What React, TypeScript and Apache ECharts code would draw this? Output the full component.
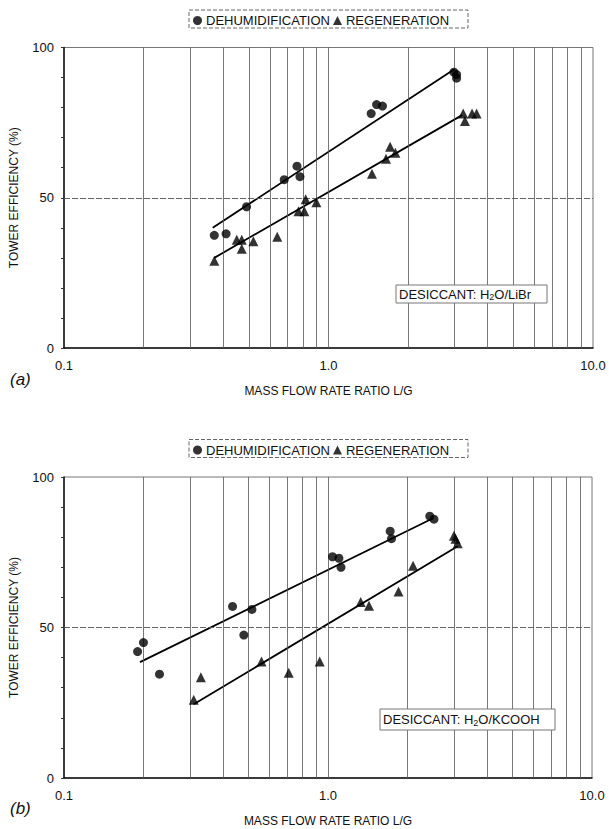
import React, { useEffect, useRef } from "react";
import * as echarts from "echarts";

// ---- data ----
const aDehumX = [0.37, 0.41, 0.49, 0.68, 0.76, 0.78, 1.45, 1.52, 1.6, 2.98, 3.05, 3.05];
const aDehumY = [37.5, 38, 47, 56, 60.5, 57, 78, 81, 80.5, 91.8, 91, 89.8];
const aRegenX = [0.37, 0.45, 0.47, 0.47, 0.52, 0.64, 0.77, 0.81, 0.82, 0.9, 1.46, 1.65, 1.71, 1.79, 3.23, 3.28, 3.49, 3.63];
const aRegenY = [29, 36, 36, 33, 35.5, 37, 45.5, 45.5, 49.5, 48.5, 58, 63, 67, 65, 78, 75.5, 78, 78];
const aDehumFitX = [0.365, 2.98];
const aDehumFitY = [40, 92.7];
const aRegenFitX = [0.37, 3.2];
const aRegenFitY = [30, 77.5];

const bDehumX = [0.19, 0.2, 0.23, 0.435, 0.48, 0.515, 1.04, 1.1, 1.12, 1.72, 1.74, 2.43, 2.52];
const bDehumY = [42, 45, 34.5, 57, 47.5, 56, 73.5, 73, 70, 82, 79.5, 87, 86];
const bRegenX = [0.31, 0.33, 0.56, 0.71, 0.93, 1.33, 1.43, 1.85, 2.1, 3.0, 3.04, 3.1];
const bRegenY = [26, 33.5, 38.7, 35, 38.7, 58.5, 57.2, 62, 70.5, 80.5, 79.5, 78];
const bDehumFitX = [0.194, 2.5];
const bDehumFitY = [38.5, 86.3];
const bRegenFitX = [0.31, 3.1];
const bRegenFitY = [24.5, 77];

const gridXs = [0.2, 0.3, 0.4, 0.5, 0.6, 0.7, 0.8, 0.9, 1, 2, 3, 4, 5, 6, 7, 8, 9];
const xTickLabels: Record<string, string> = { "0.1": "0.1", "1": "1.0", "10": "10.0" };
const yTickLabels = [0, 50, 100];
const seriesNames = ["DEHUMIDIFICATION", "REGENERATION"];
const panelTags = ["(a)", "(b)"];
const desiccants = ["H{sub|2}O/LiBr", "H{sub|2}O/KCOOH"];

const FONT = "'Liberation Sans', Arial, sans-serif";

const zip = (xs: number[], ys: number[]) => xs.map((x, i) => [x, ys[i]]);

export default function App() {
  const ref = useRef<HTMLDivElement>(null);
  useEffect(() => {
    if (!ref.current) return;
    const chart = echarts.init(ref.current, undefined, { renderer: "svg" });

    const grids = [
      { left: 64, top: 47.5, width: 529, height: 300.5 },
      { left: 63, top: 477, width: 529, height: 301 },
    ];
    const panels = [
      { dx: aDehumX, dy: aDehumY, rx: aRegenX, ry: aRegenY, dfx: aDehumFitX, dfy: aDehumFitY, rfx: aRegenFitX, rfy: aRegenFitY },
      { dx: bDehumX, dy: bDehumY, rx: bRegenX, ry: bRegenY, dfx: bDehumFitX, dfy: bDehumFitY, rfx: bRegenFitX, rfy: bRegenFitY },
    ];

    const xAxis = grids.map((_, i) => ({
      type: "log",
      logBase: 10,
      gridIndex: i,
      min: 0.1,
      max: 10,
      name: "MASS FLOW RATE RATIO L/G",
      nameLocation: "middle",
      nameGap: 37,
      nameTextStyle: { fontFamily: FONT, fontSize: 12, color: "#111" },
      axisLine: { show: true, lineStyle: { color: "#111", width: 1.5 } },
      axisTick: { show: false },
      splitLine: { show: false },
      axisLabel: {
        fontFamily: FONT,
        fontSize: 13,
        color: "#111",
        margin: 11,
        formatter: (v: number) => xTickLabels[String(+v.toPrecision(3))] ?? "",
      },
    }));

    const yAxis = grids.map((_, i) => ({
      type: "value",
      gridIndex: i,
      min: 0,
      max: 100,
      interval: 10,
      name: "TOWER EFFICIENCY (%)",
      nameLocation: "middle",
      nameGap: 44,
      nameTextStyle: { fontFamily: FONT, fontSize: 12, color: "#111" },
      axisLine: { show: true, lineStyle: { color: "#111", width: 1.5 } },
      axisTick: { show: true, length: 3, lineStyle: { color: "#333" } },
      splitLine: { show: false },
      axisLabel: {
        fontFamily: FONT,
        fontSize: 13,
        color: "#111",
        margin: 10,
        formatter: (v: number) => (yTickLabels.includes(v) ? String(v) : ""),
      },
    }));

    const series: any[] = [];
    panels.forEach((p, i) => {
      series.push({
        name: seriesNames[0],
        type: "scatter",
        xAxisIndex: i,
        yAxisIndex: i,
        symbol: "circle",
        symbolSize: 9,
        itemStyle: { color: "#000" },
        data: zip(p.dx, p.dy),
        z: 5,
      });
      series.push({
        name: seriesNames[1],
        type: "scatter",
        xAxisIndex: i,
        yAxisIndex: i,
        symbol: "triangle",
        symbolSize: 10,
        itemStyle: { color: "#000" },
        data: zip(p.rx, p.ry),
        z: 5,
      });
      series.push({
        name: "fitD" + i,
        type: "line",
        xAxisIndex: i,
        yAxisIndex: i,
        symbol: "none",
        lineStyle: { color: "#000", width: 1.8 },
        data: zip(p.dfx, p.dfy),
        z: 4,
        markLine: {
          silent: true,
          symbol: "none",
          label: { show: false },
          lineStyle: { color: "#555", width: 0.8, type: "solid" },
          data: [
            ...gridXs.map((v) => ({ xAxis: v })),
            { yAxis: 50, lineStyle: { color: "#555", width: 0.9, type: [6, 2] } },
          ],
        },
      });
      series.push({
        name: "fitR" + i,
        type: "line",
        xAxisIndex: i,
        yAxisIndex: i,
        symbol: "none",
        lineStyle: { color: "#000", width: 1.8 },
        data: zip(p.rfx, p.rfy),
        z: 4,
      });
    });

    const legends = grids.map((g) => ({
      data: seriesNames.map((n, k) => ({ name: n, icon: k === 0 ? "circle" : "triangle" })),
      left: 189,
      top: g.top - 37.5,
      padding: [4, 4],
      itemWidth: 9,
      itemHeight: 9,
      itemGap: 3,
      selectedMode: false,
      textStyle: { fontFamily: FONT, fontSize: 13, color: "#111", padding: [0, 0, 0, -1] },
    }));

    const graphics: any[] = [];
    grids.forEach((g, i) => {
      graphics.push({
        type: "rect",
        shape: { x: 189, y: g.top - 37.5, width: 279, height: 18 },
        style: { fill: "none", stroke: "#666", lineWidth: 1, lineDash: [4, 2] },
        z: 10,
      });
      graphics.push({
        type: "text",
        left: 10,
        top: g.top + 323,
        style: { text: panelTags[i], font: `italic 17px ${FONT}`, fill: "#111" },
      });
    });
    const boxes = [
      { x: 396, y: 285, w: 151, h: 18 },
      { x: 380, y: 709, w: 175, h: 21 },
    ];
    boxes.forEach((b, i) => {
      graphics.push({
        type: "rect",
        shape: { x: b.x, y: b.y, width: b.w, height: b.h },
        style: { fill: "#fff", stroke: "#777", lineWidth: 1 },
        z: 10,
      });
      graphics.push({
        type: "text",
        x: b.x + 3,
        y: b.y + b.h / 2,
        z: 11,
        style: {
          text: "DESICCANT: " + desiccants[i],
          fontFamily: FONT,
          fontSize: 13,
          fill: "#111",
          verticalAlign: "middle",
          rich: {
            sub: { fontFamily: FONT, fontSize: 9, fill: "#111", padding: [6, 0, 0, 0] },
          },
        },
      });
    });

    chart.setOption({
      animation: false,
      backgroundColor: "#fff",
      grid: grids.map((g) => ({ ...g, show: true, borderColor: "#777", borderWidth: 1, backgroundColor: "transparent" })),
      xAxis,
      yAxis,
      legend: legends,
      series,
      graphic: graphics,
    });
    return () => chart.dispose();
  }, []);
  return <div ref={ref} style={{ position: "fixed", left: 0, top: 0, width: 609, height: 829 }} />;
}
